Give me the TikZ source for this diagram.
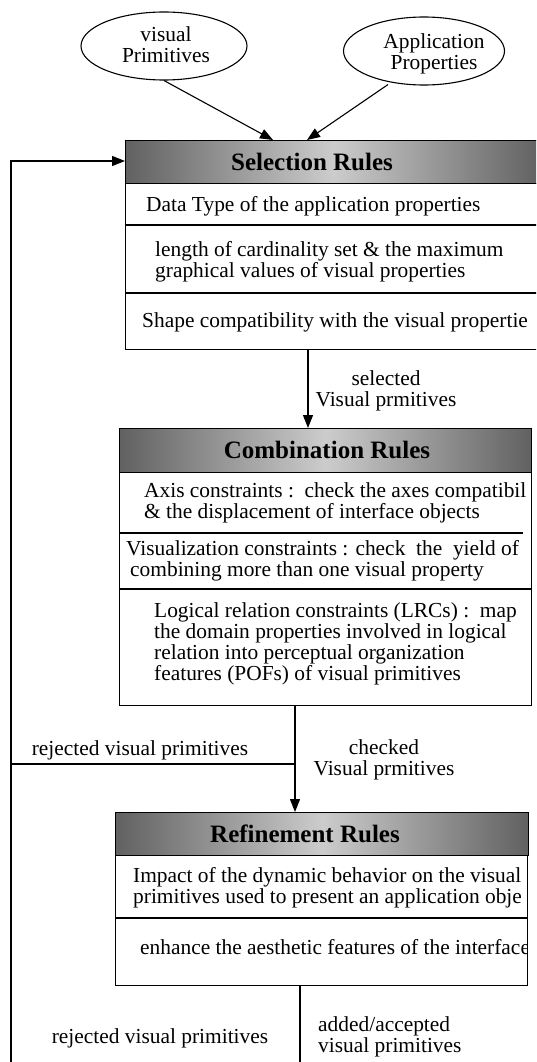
\documentclass[tikz,border=0pt]{standalone}
\usepackage{fontspec}
\setmainfont{Liberation Serif}
\usetikzlibrary{arrows.meta,shapes.geometric,calc}

\begin{document}
\begin{tikzpicture}[x=1pt,y=-1pt,
  txt/.style={font=\fontsize{21.4}{21}\selectfont, inner sep=0pt, align=left},
  ctxt/.style={font=\fontsize{21.4}{21}\selectfont, inner sep=0pt, align=center},
  headtxt/.style={font=\fontsize{25}{26}\selectfont\bfseries, inner sep=0pt},
  header/.style={draw=black, line width=1.4pt,
    left color=black!62, right color=black!62, middle color=black!20,
    inner sep=0pt},
  rulebox/.style={draw=black, line width=1.2pt, fill=white, inner sep=0pt},
  divider/.style={line width=1.1pt},
  oval/.style={ellipse, draw=black, line width=1.1pt, inner sep=0pt,
    font=\fontsize{21}{21}\selectfont, align=center},
  link/.style={line width=1.1pt},
  arr/.style={link, -{Triangle[length=13pt,width=10pt]}}
]
\useasboundingbox (0,0) rectangle (536,1062);
\clip (0,0) rectangle (536,1062);

% input ovals
\node[oval, minimum width=166pt, minimum height=68pt] (vp) at (164,46) {};
\node[ctxt] (vptext) at (166,45) {visual\\Primitives};
\node[oval, minimum width=161pt, minimum height=68pt] (ap) at (424,51) {};
\node[ctxt] (aptext) at (434,54) {Application\\Properties};

% ---------------- Selection Rules ----------------
\node[rulebox, anchor=north west, minimum width=415pt, minimum height=166pt] (selbody) at (125,183) {};
\node[header, anchor=north west, minimum width=415pt, minimum height=43pt] (selhead) at (125,140) {};
\node[headtxt] (seltitle) at (312,162) {Selection Rules};
\draw[divider] (125,225) -- (540,225);
\draw[divider] (125,293) -- (540,293);
\node[txt, anchor=west] (sel1) at (146,206) {Data Type of the application properties};
\node[txt, anchor=west] (sel2) at (155,262) {length of cardinality set \& the maximum\\graphical values of visual properties};
\node[txt, anchor=west] (sel3) at (142,322) {Shape compatibility with the visual propertie};

% ---------------- Combination Rules ----------------
\node[rulebox, anchor=north west, minimum width=412pt, minimum height=233pt] (combbody) at (119,472) {};
\node[header, anchor=north west, minimum width=412pt, minimum height=44pt] (combhead) at (119,428) {};
\node[headtxt] (combtitle) at (327,450) {Combination Rules};
\draw[divider] (119,533) -- (523,533);
\draw[divider] (119,589) -- (531,589);
\begin{scope}
\clip (119,472) rectangle (531,705);
\node[txt, anchor=west] (comb1) at (144,503) {Axis constraints :\ \ check the axes compatibil\\\& the displacement of interface objects};
\node[txt, anchor=west] (comb2) at (126,561) {Visualization constraints : check\ \ the\ \ yield of\\\hspace*{4pt}combining more than one visual property};
\node[txt, anchor=west] (comb3) at (154,644) {Logical relation constraints (LRCs) :\ \ map\\the domain properties involved in logical\\relation into perceptual organization\\features (POFs) of visual primitives};
\end{scope}

% ---------------- Refinement Rules ----------------
\node[rulebox, anchor=north west, minimum width=412pt, minimum height=130pt] (refbody) at (115,855) {};
\node[header, anchor=north west, minimum width=413pt, minimum height=43pt] (refhead) at (115,812) {};
\node[headtxt] (reftitle) at (305,834) {Refinement Rules};
\draw[divider] (115,918) -- (527,918);
\begin{scope}
\clip (115,855) rectangle (527,985);
\node[txt, anchor=west] (ref1) at (133,888) {Impact of the dynamic behavior on the visual\\primitives used to present an application obje};
\node[txt, anchor=west] (ref2) at (140,947) {enhance the aesthetic features of the interface};
\end{scope}

% ---------------- connectors ----------------
\coordinate (vpin) at (273,140);
\coordinate (apin) at (307,140);
\coordinate (selout) at (308,349);
\coordinate (combout) at (295,705);
\coordinate (refout) at (300,985);
\coordinate (loopbot) at (11,1062);
\coordinate (looptop) at (11,161);
\coordinate (rejjoin) at (11,764);
\coordinate (flowend) at (300,1062);

\draw[arr] (vp.south) -- (vpin);
\draw[arr] (ap.south) ++(-36,-1) -- (apin);
\draw[arr] (selout) -- (selout |- combhead.north);
\draw[arr] (combout) -- (combout |- refhead.north);
\draw[link] (refout) -- (flowend);
\draw[arr] (loopbot) -- (looptop) -- (looptop -| selhead.west);
\draw[link] (rejjoin) -- (rejjoin -| combout);

% ---------------- labels ----------------
\node[ctxt] (lbsel) at (386,391) {selected\\Visual prmitives};
\node[txt] (lbrej1) at (140,750) {rejected visual primitives};
\node[ctxt] (lbchk) at (384,760) {checked\\Visual prmitives};
\node[txt] (lbrej2) at (160,1038) {rejected visual primitives};
\node[txt, anchor=west] (lbadd) at (318,1037) {added/accepted\\visual primitives};
\end{tikzpicture}
\end{document}
